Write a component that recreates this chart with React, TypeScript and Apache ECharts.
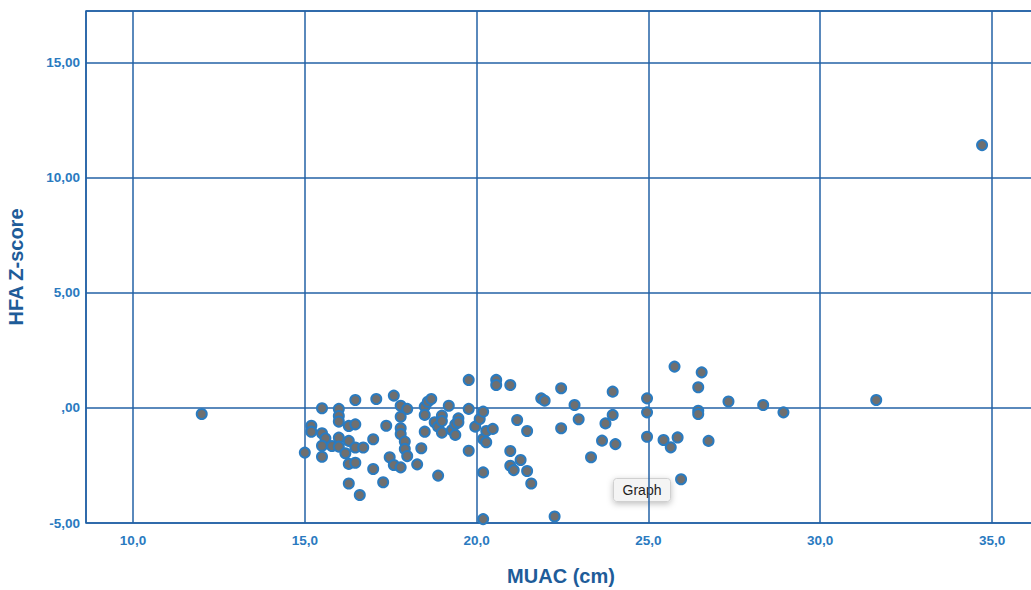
import React, { useEffect, useRef } from "react";
import * as echarts from "echarts";

const muac: number[] = [
  12.0, 15.0, 15.19, 15.19, 15.5, 15.5, 15.6, 15.5, 15.5, 15.79,
  15.99, 15.99, 15.99, 15.99, 15.99, 16.18, 16.28, 16.47, 16.28, 16.47,
  16.7, 16.28, 16.47, 16.47, 16.28, 16.6, 16.99, 16.99, 17.08, 17.28,
  17.37, 17.47, 17.59, 17.79, 17.59, 17.79, 17.98, 17.79, 17.79, 17.79,
  17.91, 17.91, 17.98, 18.49, 18.58, 18.68, 18.49, 18.49, 18.39, 18.27,
  18.88, 19.19, 18.78, 18.88, 18.99, 18.99, 18.99, 19.28, 19.38, 19.38,
  19.47, 19.47, 19.77, 19.77, 19.77, 19.96, 20.09, 20.19, 20.19, 20.28,
  20.28, 20.47, 20.19, 20.19, 20.57, 20.57, 20.98, 21.18, 21.47, 21.88,
  21.98, 22.46, 22.46, 22.85, 22.97, 20.98, 21.28, 20.98, 21.08, 21.47,
  21.59, 22.27, 23.33, 23.65, 23.75, 23.96, 23.96, 24.04, 24.96, 24.96,
  24.96, 25.44, 25.65, 25.76, 25.85, 25.95, 26.45, 26.55, 26.45, 26.45,
  26.75, 27.33, 28.34, 28.93, 31.63, 34.71,
];

const hfaZ: number[] = [
  -0.26, -1.94, -0.77, -1.03, -0.01, -1.1, -1.32, -1.64, -2.12, -1.65,
  -0.04, -0.35, -0.59, -1.29, -1.68, -1.97, -0.78, -0.71, -1.43, -1.72,
  -1.72, -2.43, -2.38, 0.35, -3.28, -3.78, -1.36, -2.65, 0.39, -3.23,
  -0.77, -2.14, -2.48, -2.58, 0.54, 0.1, -0.04, -0.38, -0.88, -1.13,
  -1.46, -1.78, -2.09, 0.06, 0.27, 0.39, -0.3, -1.03, -1.75, -2.45,
  -2.94, 0.1, -0.62, -0.81, -0.33, -0.57, -1.07, -0.96, -1.17, -0.71,
  -0.45, -0.62, 1.22, -0.04, -1.86, -0.81, -0.48, -0.16, -1.35, -1.0,
  -1.49, -0.91, -2.8, -4.83, 1.22, 1.0, 1.0, -0.52, -1.0, 0.42,
  0.32, 0.86, -0.88, 0.13, -0.49, -1.87, -2.26, -2.51, -2.7, -2.74,
  -3.28, -4.72, -2.14, -1.42, -0.67, -0.3, 0.71, -1.57, 0.42, -0.19,
  -1.25, -1.39, -1.71, 1.8, -1.28, -3.1, 0.9, 1.55, -0.12, -0.26,
  -1.43, 0.28, 0.13, -0.19, 0.35, 11.43,
];

const xTitle = "MUAC (cm)";
const yTitle = "HFA Z-score";
const popupLabel = "Graph";

export default function App() {
  const ref = useRef<HTMLDivElement>(null);
  useEffect(() => {
    if (!ref.current) return;
    const chart = echarts.init(ref.current, null, { renderer: "svg" });
    const lineColor = "#2362a6";
    const labelColor = "#2a7abf";
    const titleColor = "#1e5c99";
    const font = "Liberation Sans, Arial, sans-serif";
    const data = muac.map((x, i) => [x, hfaZ[i]]);
    chart.setOption({
      animation: false,
      backgroundColor: "#ffffff",
      grid: {
        left: 86,
        top: 11,
        width: 950,
        height: 512,
        outerBoundsMode: "none",
        containLabel: false,
        show: true,
        borderColor: lineColor,
        borderWidth: 1.5,
        backgroundColor: "transparent",
      },
      xAxis: {
        type: "value",
        min: 8.632,
        max: 36.28,
        splitNumber: 5,
        name: xTitle,
        nameLocation: "middle",
        nameGap: 43,
        nameTextStyle: {
          color: titleColor,
          fontSize: 20,
          fontWeight: "bold",
          fontFamily: font,
        },
        axisLine: { show: false },
        axisTick: { show: false },
        splitLine: { show: true, lineStyle: { color: lineColor, width: 1.5 } },
        axisLabel: {
          showMinLabel: false,
          showMaxLabel: false,
          color: labelColor,
          fontSize: 13.5,
          fontWeight: "bold",
          margin: 10,
          fontFamily: font,
          formatter: (v: number) => v.toFixed(1).replace(".", ","),
        },
      },
      yAxis: {
        type: "value",
        min: -5,
        max: 17.26,
        splitNumber: 5,
        name: yTitle,
        nameLocation: "middle",
        nameGap: 60,
        nameTextStyle: {
          color: titleColor,
          fontSize: 20,
          fontWeight: "bold",
          fontFamily: font,
        },
        axisLine: { show: false },
        axisTick: { show: false },
        splitLine: { show: true, lineStyle: { color: lineColor, width: 1.5 } },
        axisLabel: {
          showMaxLabel: false,
          color: labelColor,
          fontSize: 13.5,
          fontWeight: "bold",
          margin: 6,
          fontFamily: font,
          formatter: (v: number) => {
            const s = v.toFixed(2).replace(".", ",");
            return s === "0,00" ? ",00" : s;
          },
        },
      },
      series: [
        {
          type: "scatter",
          data,
          symbol: "circle",
          symbolSize: 10,
          itemStyle: {
            color: "#6f6f6f",
            borderColor: "#2a7bc0",
            borderWidth: 2,
            opacity: 1,
          },
          z: 5,
        },
      ],
      graphic: [
        {
          type: "group",
          left: 613,
          top: 478,
          z: 100,
          children: [
            {
              type: "rect",
              shape: { x: 0, y: 0, width: 57, height: 23, r: 3 },
              style: {
                fill: "#f4f4f4",
                stroke: "#d0d0d0",
                lineWidth: 1,
                shadowBlur: 6,
                shadowColor: "rgba(0,0,0,0.25)",
                shadowOffsetY: 2,
              },
            },
            {
              type: "text",
              x: 28.5,
              y: 11.5,
              style: {
                text: popupLabel,
                align: "center",
                verticalAlign: "middle",
                fill: "#1f1f1f",
                fontSize: 14,
                fontFamily: font,
              },
            },
          ],
        },
      ],
    });
    return () => chart.dispose();
  }, []);
  return (
    <div
      ref={ref}
      style={{ position: "fixed", left: 0, top: 0, width: 1031, height: 590, background: "#fff" }}
    />
  );
}
